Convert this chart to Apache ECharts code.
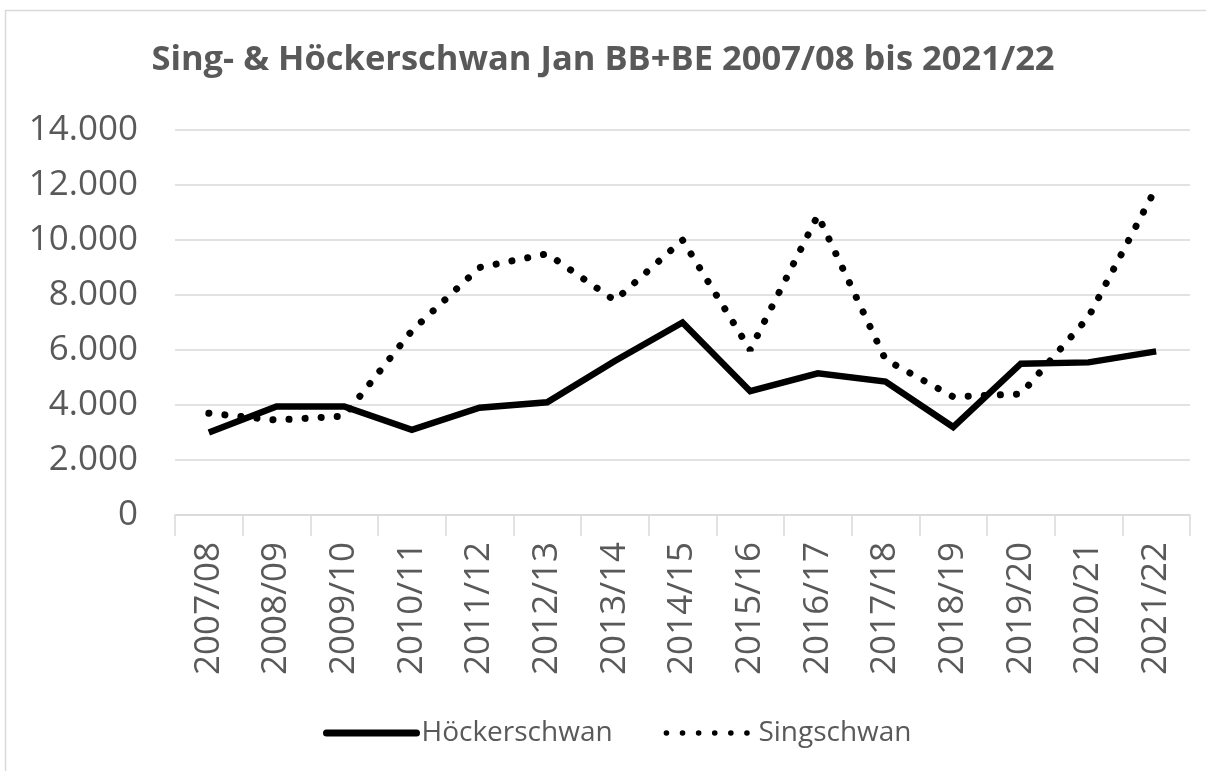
<!DOCTYPE html>
<html>
<head>
<meta charset="utf-8">
<script src="https://cdn.jsdelivr.net/npm/echarts@6/dist/echarts.min.js"></script>
<style>
  html, body { margin: 0; padding: 0; background: #fff; }
  #chart { width: 1206px; height: 771px; }
</style>
</head>
<body>
<div id="chart"></div>
<script>
// Winterzählung Januar, Brandenburg + Berlin
const seasons = ['2007/08', '2008/09', '2009/10', '2010/11', '2011/12', '2012/13', '2013/14',
  '2014/15', '2015/16', '2016/17', '2017/18', '2018/19', '2019/20', '2020/21', '2021/22'];
const hoeckerschwan = [3000, 3950, 3950, 3100, 3900, 4100, 5600, 7000, 4500, 5150, 4850, 3200, 5500, 5550, 5950];
const singschwan = [3700, 3450, 3600, 6700, 9000, 9500, 7800, 10000, 6000, 10900, 5650, 4300, 4400, 7200, 11900];
const yMax = 14000;
const yStep = 2000;

const textColor = '#595959';
const gridColor = '#d9d9d9';
const font = '"Open Sans", sans-serif';

// 12000 -> "12.000"
function formatDe(v) {
  return String(v).replace(/\B(?=(\d{3})+(?!\d))/g, '.');
}

const chart = echarts.init(document.getElementById('chart'));

const option = {
  animation: false,
  backgroundColor: '#fff',
  textStyle: { fontFamily: font },
  title: {
    text: 'Sing- & Höckerschwan Jan BB+BE 2007/08 bis 2021/22',
    left: 'center',
    top: 38,
    textStyle: { color: textColor, fontSize: 34.5, fontWeight: 'bold', fontFamily: font }
  },
  graphic: [{
    type: 'rect',
    shape: { x: 5.5, y: 10.5, width: 1220, height: 800 },
    style: { fill: 'none', stroke: gridColor, lineWidth: 1.5 },
    silent: true
  }],
  legend: {
    left: 318,
    top: 714,
    itemWidth: 90,
    itemHeight: 14,
    itemGap: 48,
    textStyle: { color: textColor, fontSize: 28, fontFamily: font },
    data: [
      {
        name: 'Höckerschwan',
        itemStyle: { opacity: 0 },
        lineStyle: { width: 7, cap: 'round' }
      },
      {
        name: 'Singschwan',
        itemStyle: { opacity: 0 },
        lineStyle: { width: 5.5, type: [0.1, 16], cap: 'round', dashOffset: -3 }
      }
    ]
  },
  grid: {
    left: 175,
    right: 16,
    top: 130,
    bottom: 256,
    containLabel: false
  },
  xAxis: {
    type: 'category',
    data: seasons,
    boundaryGap: true,
    axisLine: { lineStyle: { color: gridColor, width: 1.5 } },
    axisTick: { show: true, length: 21, lineStyle: { color: gridColor, width: 1.5 } },
    axisLabel: {
      rotate: 90,
      margin: 27,
      color: textColor,
      fontSize: 35,
      fontFamily: font,
      interval: 0
    }
  },
  yAxis: {
    type: 'value',
    min: 0,
    max: yMax,
    interval: yStep,
    axisLine: { show: false },
    axisTick: { show: false },
    splitLine: { lineStyle: { color: gridColor, width: 1.5 } },
    axisLabel: {
      margin: 37,
      color: textColor,
      fontSize: 35,
      fontFamily: font,
      formatter: formatDe
    }
  },
  series: [
    {
      name: 'Höckerschwan',
      type: 'line',
      data: hoeckerschwan,
      symbol: 'none',
      lineStyle: { color: '#000', width: 6.5, join: 'miter' },
      itemStyle: { color: '#000' }
    },
    {
      name: 'Singschwan',
      type: 'line',
      data: singschwan,
      symbol: 'none',
      lineStyle: { color: '#000', width: 7, type: [0.1, 16], cap: 'round' },
      itemStyle: { color: '#000' }
    }
  ]
};

chart.setOption(option);
</script>
</body>
</html>
